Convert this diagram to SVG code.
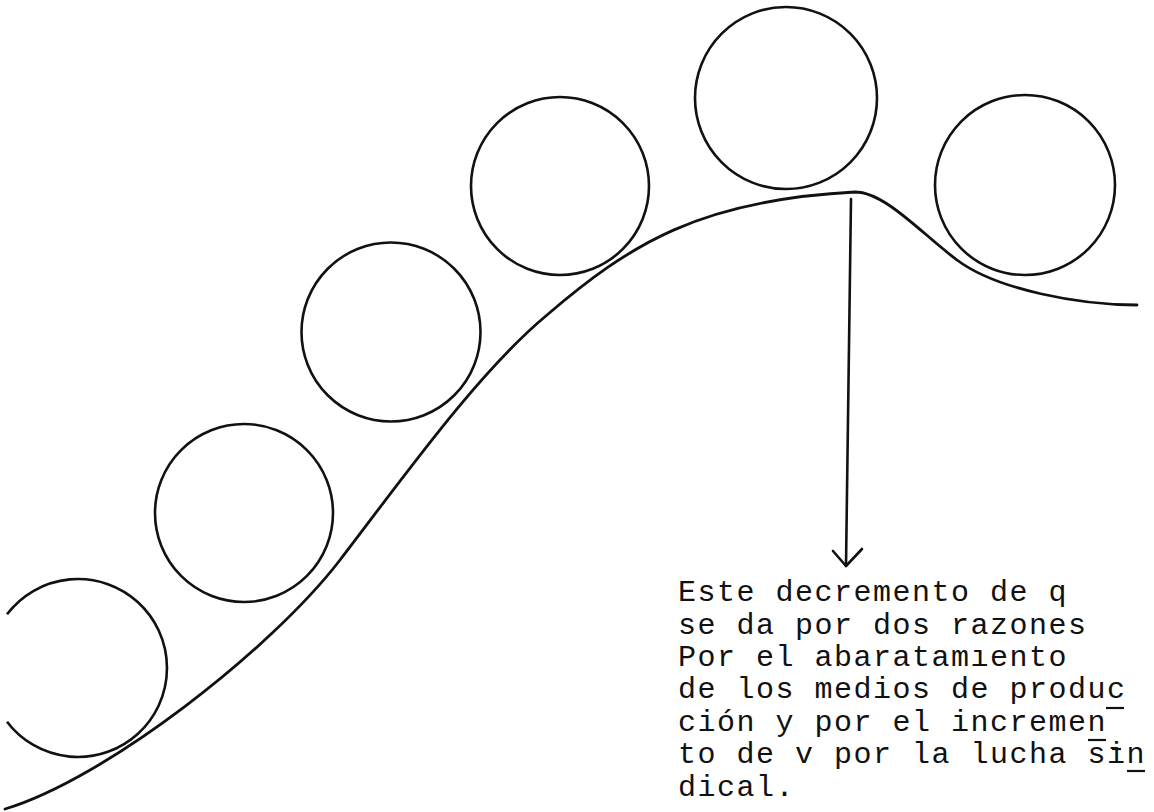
<svg xmlns="http://www.w3.org/2000/svg" width="1154" height="812" viewBox="0 0 1154 812">
<style>
.ring{fill:none;stroke:#111;stroke-width:2.6}
.curve{fill:none;stroke:#111;stroke-width:2.8;stroke-linecap:round}
.conn{fill:none;stroke:#111;stroke-width:2.6;stroke-linecap:round;stroke-linejoin:round}
.note{font-family:"Liberation Mono","DejaVu Sans Mono",monospace;font-size:30px;letter-spacing:1.5px;fill:#111}
.mark{stroke:#111;stroke-width:2.2}
</style>
<rect width="1154" height="812" fill="#fff"/>
<g id="circle1"><path class="ring" d="M7,614.3 A89,89 0 1 1 7,721.7"/></g>
<g id="circle2"><circle class="ring" cx="244" cy="513" r="89"/></g>
<g id="circle3"><circle class="ring" cx="391" cy="332" r="89.5"/></g>
<g id="circle4"><circle class="ring" cx="560" cy="186" r="89"/></g>
<g id="circle5"><circle class="ring" cx="786" cy="98" r="91"/></g>
<g id="circle6"><circle class="ring" cx="1025" cy="185" r="90"/></g>
<g id="curve"><path class="curve" d="M5,809 C105,779 270,651 340,560 C400,482 477,373 547,315 C630,244 700,200 855,192 C885,192 922,234 957,260 C997,290 1080,305 1137,305"/></g>
<g id="connectors">
<path class="conn" d="M851,199 L846,566"/>
<path class="conn" d="M833,551 L846,566 L862,549"/>
</g>
<g id="note">
<text class="note" x="678" y="601">Este decremento de q</text>
<text class="note" x="678" y="633.5">se da por dos razones</text>
<text class="note" x="678" y="666">Por el abaratamıento</text>
<text class="note" x="678" y="698">de los medios de produc</text>
<text class="note" x="678" y="730.5">ción y por el incremen</text>
<text class="note" x="678" y="763">to de v por la lucha sin</text>
<text class="note" x="678" y="795.5">dical.</text>
<line class="mark" x1="1106" y1="708" x2="1124" y2="708"/>
<line class="mark" x1="1088" y1="740" x2="1106" y2="740"/>
<line class="mark" x1="1112" y1="749" x2="1121" y2="749"/>
<line class="mark" x1="1127" y1="771" x2="1145" y2="771"/>
</g>
</svg>
